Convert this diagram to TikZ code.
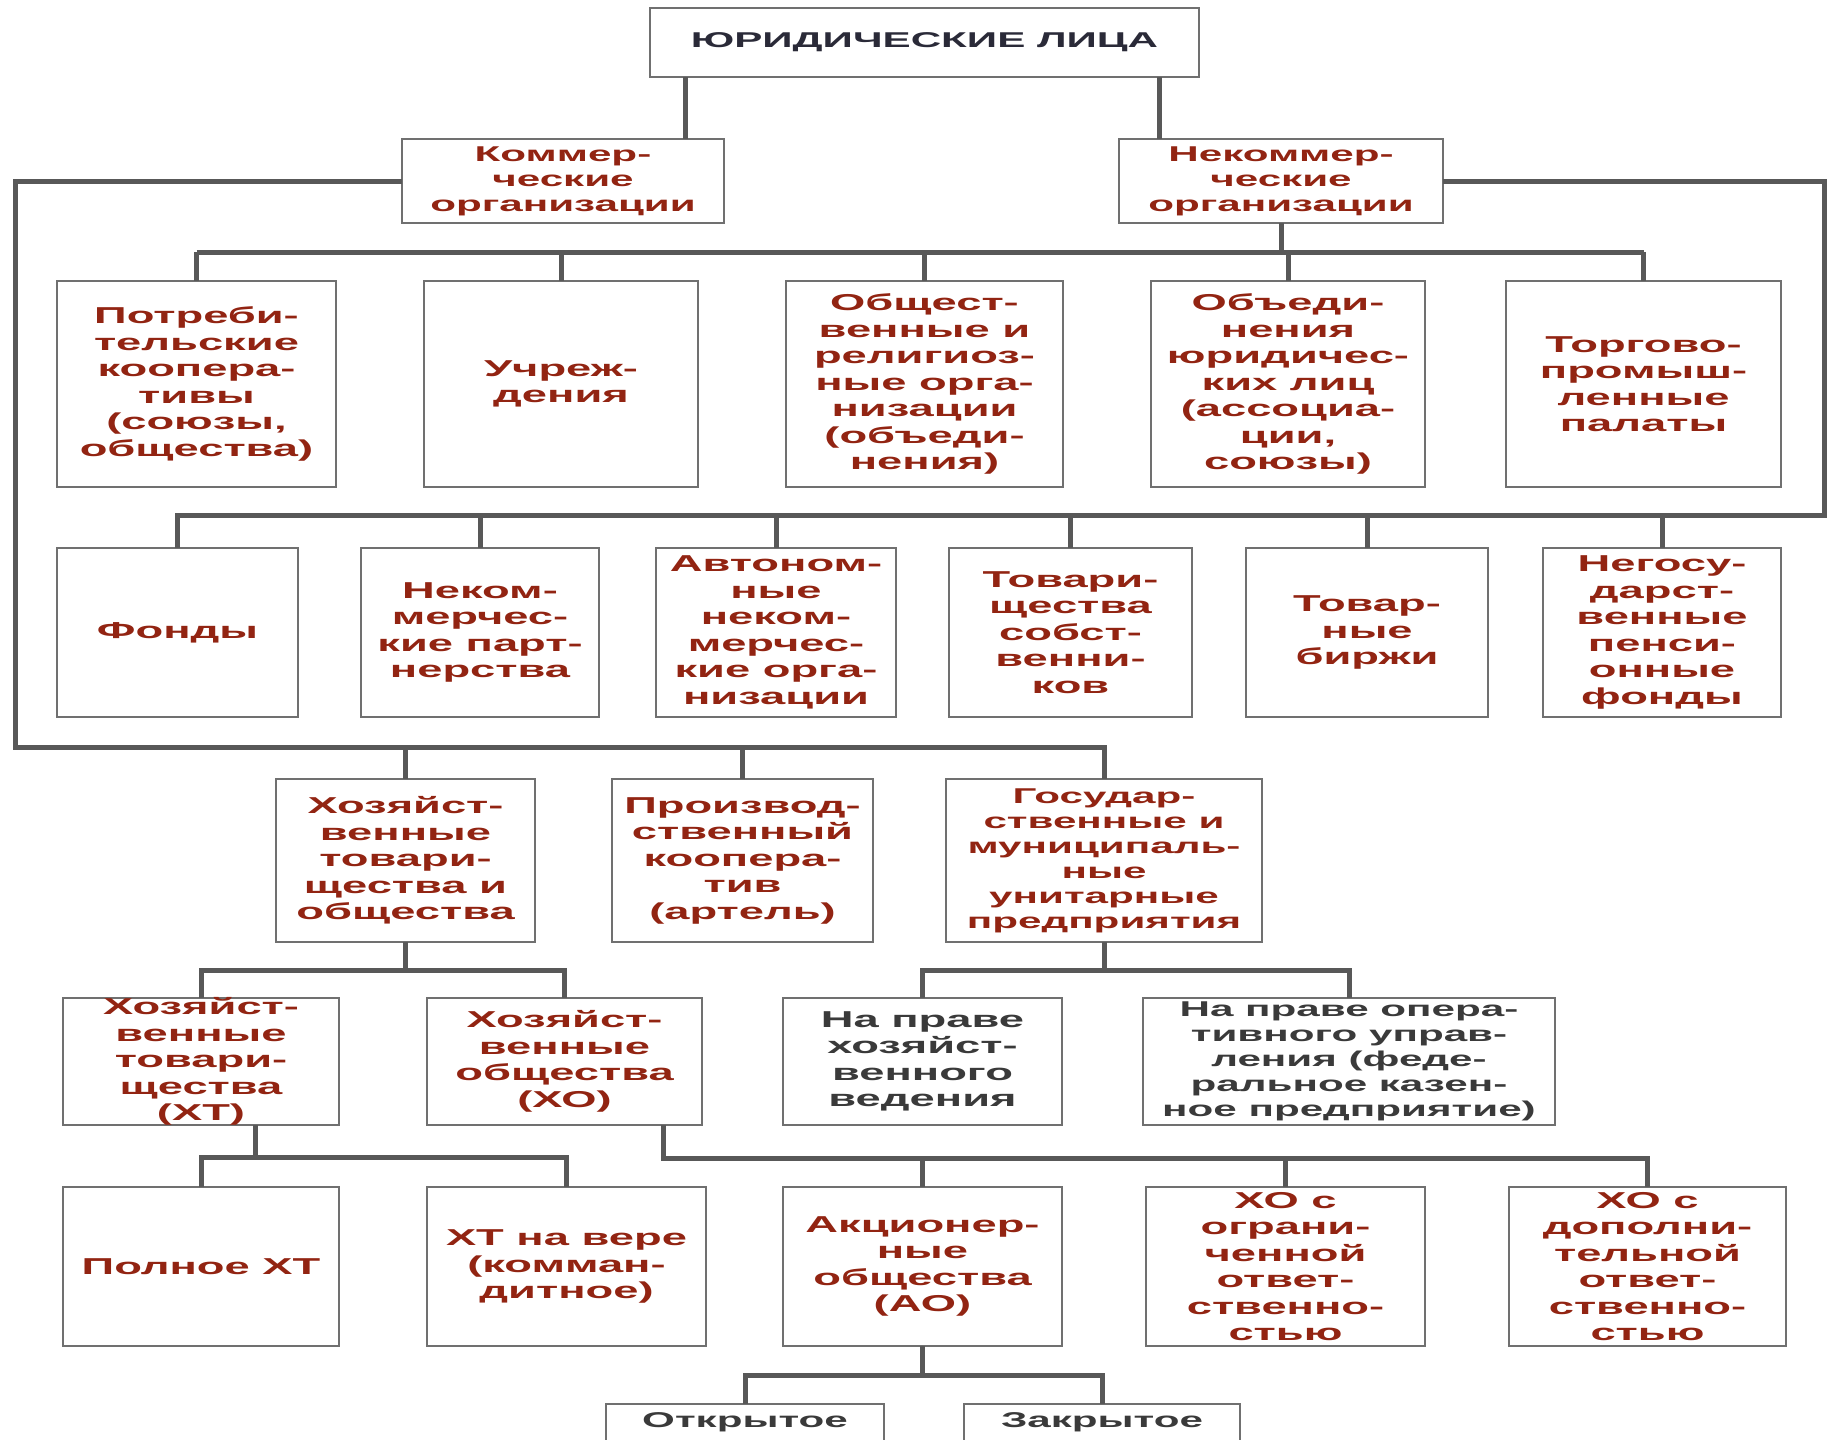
\documentclass[tikz,border=0pt]{standalone}
\usepackage{fontspec}
\newfontfamily\dfont{Liberation Sans}[FakeStretch=1.97]
\definecolor{txtred}{RGB}{146,36,18}
\definecolor{txtgray}{RGB}{58,58,58}
\definecolor{txttop}{RGB}{42,42,56}
\definecolor{linegray}{RGB}{88,88,88}
\definecolor{boxgray}{RGB}{112,112,112}
% box: [label style]{name}{x1}{y1}{x2}{y2}{text}
\newcommand\bx[7][]{%
  \node[boxst, minimum width={#5-#3}, minimum height={#6-#4}] (#2) at ({(#3+#5)/2},{(#4+#6)/2}) {};
  \node[lbl,#1] (#2t) at (#2) {#7};}
\begin{document}
\begin{tikzpicture}[x=1pt,y=-1pt,
  boxst/.style={draw=boxgray, line width=2.2pt, fill=white, inner sep=0pt, outer sep=0pt},
  lbl/.style={text=txtred, align=center, inner sep=0pt, font=\dfont\bfseries\fontsize{23}{26.5}\selectfont},
  sml/.style={font=\dfont\bfseries\fontsize{21.4}{25}\selectfont},
  topf/.style={font=\dfont\bfseries\fontsize{21.4}{25}\selectfont},
  gr/.style={text=txtgray},
  conn/.style={draw=linegray, line width=5pt, line join=miter}]
\useasboundingbox (0,0) rectangle (1837,1440);
\fill[white] (0,0) rectangle (1837,1440);
\clip (0,0) rectangle (1837,1440);

% level 0/1
\bx[text=txttop,topf]{top}{650}{8}{1199}{77}{ЮРИДИЧЕСКИЕ ЛИЦА}
\bx[sml]{kom}{402}{139}{724}{223}{Коммер-\\ческие\\организации}
\bx[sml]{nek}{1119}{139}{1443}{223}{Некоммер-\\ческие\\организации}

% row 1
\bx{p1}{57}{281}{336}{487}{Потреби-\\тельские\\коопера-\\тивы\\(союзы,\\общества)}
\bx{p2}{424}{281}{698}{487}{Учреж-\\дения}
\bx{p3}{786}{281}{1063}{487}{Общест-\\венные и\\религиоз-\\ные орга-\\низации\\(объеди-\\нения)}
\bx{p4}{1151}{281}{1425}{487}{Объеди-\\нения\\юридичес-\\ких лиц\\(ассоциа-\\ции,\\союзы)}
\bx{p5}{1506}{281}{1781}{487}{Торгово-\\промыш-\\ленные\\палаты}

% row 2
\bx{q1}{57}{548}{298}{717}{Фонды}
\bx{q2}{361}{548}{599}{717}{Неком-\\мерчес-\\кие парт-\\нерства}
\bx{q3}{656}{548}{896}{717}{Автоном-\\ные\\неком-\\мерчес-\\кие орга-\\низации}
\bx{q4}{949}{548}{1192}{717}{Товари-\\щества\\собст-\\венни-\\ков}
\bx{q5}{1246}{548}{1488}{717}{Товар-\\ные\\биржи}
\bx{q6}{1543}{548}{1781}{717}{Негосу-\\дарст-\\венные\\пенси-\\онные\\фонды}

% row 3
\bx{hto}{276}{779}{535}{942}{Хозяйст-\\венные\\товари-\\щества и\\общества}
\bx{prk}{612}{779}{873}{942}{Производ-\\ственный\\коопера-\\тив\\(артель)}
\bx[sml]{gos}{946}{779}{1262}{942}{Государ-\\ственные и\\муниципаль-\\ные\\унитарные\\предприятия}

% row 4
\bx{ht}{63}{998}{339}{1125}{Хозяйст-\\венные\\товари-\\щества\\(ХТ)}
\bx{ho}{427}{998}{702}{1125}{Хозяйст-\\венные\\общества\\(ХО)}
\bx[gr]{phv}{783}{998}{1062}{1125}{На праве\\хозяйст-\\венного\\ведения}
\bx[gr,sml]{pou}{1143}{998}{1555}{1125}{На праве опера-\\тивного управ-\\ления (феде-\\ральное казен-\\ное предприятие)}

% row 5
\bx{pht}{63}{1187}{339}{1346}{Полное ХТ}
\bx{htv}{427}{1187}{706}{1346}{ХТ на вере\\(комман-\\дитное)}
\bx{ao}{783}{1187}{1062}{1346}{Акционер-\\ные\\общества\\(АО)}
\bx{hoo}{1146}{1187}{1425}{1346}{ХО с\\ограни-\\ченной\\ответ-\\ственно-\\стью}
\bx{hod}{1509}{1187}{1786}{1346}{ХО с\\дополни-\\тельной\\ответ-\\ственно-\\стью}

% row 6
\node[boxst, minimum width=278, minimum height=100] (otk) at (745,1454) {};
\node[lbl,gr,topf,anchor=center] (otkt) at ([yshift=-18]otk.north) {Открытое};
\node[boxst, minimum width=276, minimum height=100] (zak) at (1102,1454) {};
\node[lbl,gr,topf,anchor=center] (zakt) at ([yshift=-18]zak.north) {Закрытое};

% helper coordinates
\coordinate (cK) at (685,0);
\coordinate (cN) at (1159,0);
\coordinate (L2) at (15,747);
\coordinate (R2) at (1824,515);
\coordinate (B1) at (0,252);
\coordinate (B4) at (0,970);
\coordinate (cHT) at (255,1157);
\coordinate (cHO) at (663,1158);
\coordinate (B6) at (0,1375);

% connectors
\draw[conn] (top.south -| cK) -- (kom.north -| cK);
\draw[conn] (top.south -| cN) -- (nek.north -| cN);

% commercial loop
\draw[conn] (kom.west) -- (kom.west -| L2) -- (L2) -- (L2 -| gos.north) -- (gos.north);
\draw[conn] (L2 -| hto.north) -- (hto.north);
\draw[conn] (L2 -| prk.north) -- (prk.north);

% non-commercial loop to row 2
\draw[conn] (nek.east) -- (nek.east -| R2) -- (R2) -- (R2 -| q1.north) -- (q1.north);
\foreach \n in {q2,q3,q4,q5,q6} \draw[conn] (R2 -| \n.north) -- (\n.north);

% non-commercial to row 1
\draw[conn] (nek.south) -- (nek.south |- B1);
\draw[conn] (B1 -| p1.north) -- (B1 -| p5.north);
\foreach \n in {p1,p2,p3,p4,p5} \draw[conn] (B1 -| \n.north) -- (\n.north);

% hto -> ht, ho
\draw[conn] (hto.south) -- (hto.south |- B4);
\draw[conn] (ht.north) -- (B4 -| ht.north) -- (B4 -| ho.north) -- (ho.north);

% gos -> phv, pou
\draw[conn] (gos.south) -- (gos.south |- B4);
\draw[conn] (phv.north) -- (B4 -| phv.north) -- (B4 -| pou.north) -- (pou.north);

% ht -> pht, htv
\draw[conn] (ht.south -| cHT) -- (cHT);
\draw[conn] (pht.north) -- (cHT -| pht.north) -- (cHT -| htv.north) -- (htv.north);

% ho -> ao, hoo, hod
\draw[conn] (ho.south -| cHO) -- (cHO) -- (cHO -| hod.north) -- (hod.north);
\draw[conn] (cHO -| ao.north) -- (ao.north);
\draw[conn] (cHO -| hoo.north) -- (hoo.north);

% ao -> otk, zak
\draw[conn] (ao.south) -- (ao.south |- B6);
\draw[conn] (otk.north) -- (B6 -| otk.north) -- (B6 -| zak.north) -- (zak.north);
\end{tikzpicture}
\end{document}
